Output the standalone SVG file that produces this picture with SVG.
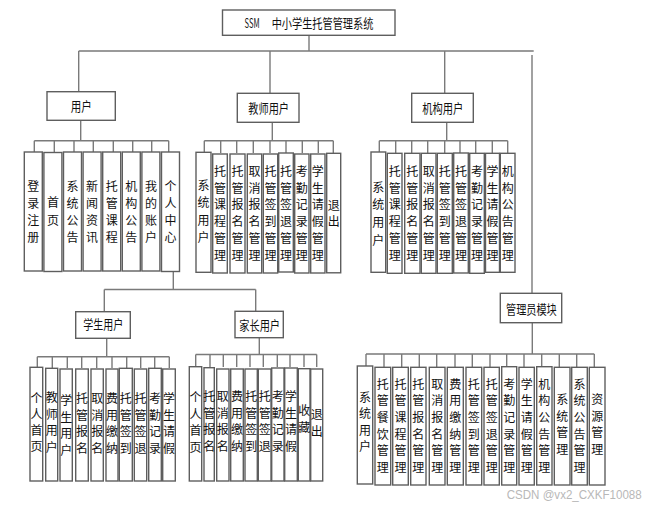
<svg xmlns="http://www.w3.org/2000/svg" width="654" height="509" viewBox="0 0 654 509">
<style>
.box{fill:#fff;stroke:#5e5e5e;stroke-width:1.4}
.ln{stroke:#7a7a7a;stroke-width:1.4;fill:none}
.t{font-family:"Noto Sans CJK SC","Noto Sans",sans-serif;font-size:13px;fill:#111}
.v{font-family:"Noto Sans CJK SC","Noto Sans",sans-serif;font-size:12px;fill:#111;text-anchor:middle}
.wm{font-family:"Liberation Sans",Arial,sans-serif;font-size:12px;fill:#b8b8b8}
</style>
<rect width="654" height="509" fill="#fff"/>
<g id="connectors" class="ln">
<path d="M309,35V51M78.7,51H533.7M78.7,51V91.7M270,51V93.3M444.7,51V93.3M532,55V293.3"/>
<path d="M80.7,120.3V140.7M34.3,140.7H168.7M34.3,140.7V152M54.3,140.7V152M74,140.7V152M93.3,140.7V152M113.3,140.7V152M132.7,140.7V152M151.7,140.7V152M168.7,140.7V152"/>
<path d="M272.3,122.3V140.7M204.3,140.7H333.3M204.3,140.7V153M220.7,140.7V153M236.7,140.7V153M253.3,140.7V153M270,140.7V153M286,140.7V153M302.3,140.7V153M318.3,140.7V153M333.3,140.7V153"/>
<path d="M446.7,122.3V140.7M379.3,140.7H507.7M379.3,140.7V152M395.7,140.7V153M411.7,140.7V153M427.7,140.7V153M444.7,140.7V153M460,140.7V153M475.7,140.7V153M492.3,140.7V153M507.7,140.7V153"/>
<path d="M173.3,271.5V289.5M104.3,289.5H255.7M104.3,289.5V311.7M255.7,289.5V311.3"/>
<path d="M106.7,338.3V356.7M37.3,356.7H169.3M37.3,356.7V368M52.3,356.7V368M67.3,356.7V368M81.7,356.7V368M96.7,356.7V368M112,356.7V368M126.7,356.7V368M140.7,356.7V368M154.7,356.7V368M169.3,356.7V368"/>
<path d="M259.3,337.7V354.5M195.7,354.5H316.7M195.7,354.5V367M210,354.5V367M223.3,354.5V367M236.7,354.5V367M250,354.5V367M263.3,354.5V367M277.3,354.5V367M290,354.5V367M304,354.5V367M316.7,354.5V367"/>
<path d="M532.3,322.7V354M366,354H594.3M366,354V366.5M384,354V367M401.7,354V367M419.3,354V367M436.7,354V367M455,354V367M472.3,354V367M490,354V367M506.7,354V367M524,354V367M541.7,354V367M559.3,354V367M576.7,354V367M594.3,354V367"/>
</g>
<g id="root"><rect class="box" x="222.5" y="10" width="172.5" height="25.3"/>
<text class="t" x="244.5" y="27.5" font-size="14" textLength="15" lengthAdjust="spacingAndGlyphs">SSM</text>
<text class="t" x="271.7" y="27.5" textLength="101.7" lengthAdjust="spacingAndGlyphs">中小学生托管管理系统</text></g>
<g id="yonghu"><rect class="box" x="47" y="91.7" width="68.3" height="28.6"/><text class="t" x="70.7" y="110.8" textLength="21" lengthAdjust="spacingAndGlyphs">用户</text></g>
<g id="jiaoshi"><rect class="box" x="237.3" y="93.3" width="61.7" height="29"/><text class="t" x="248.3" y="113" textLength="40.7" lengthAdjust="spacingAndGlyphs">教师用户</text></g>
<g id="jigou"><rect class="box" x="411.7" y="93.3" width="61.6" height="29"/><text class="t" x="422.3" y="113" textLength="41" lengthAdjust="spacingAndGlyphs">机构用户</text></g>
<g id="xuesheng"><rect class="box" x="75.7" y="311.7" width="54.6" height="26.6"/><text class="t" x="83.3" y="329.3" textLength="40" lengthAdjust="spacingAndGlyphs">学生用户</text></g>
<g id="jiazhang"><rect class="box" x="235" y="311.3" width="48.3" height="26.4"/><text class="t" x="239.3" y="330" textLength="40.7" lengthAdjust="spacingAndGlyphs">家长用户</text></g>
<g id="guanliyuan"><rect class="box" x="500.3" y="293.3" width="61.4" height="29.4"/><text class="t" x="506" y="313.8" textLength="50.7" lengthAdjust="spacingAndGlyphs">管理员模块</text></g>

<g id="u1"><rect class="box" x="24.3" y="152" width="18" height="119"/><text class="v"><tspan x="33.3" y="191.2">登</tspan><tspan x="33.3" y="208.2">录</tspan><tspan x="33.3" y="225.2">注</tspan><tspan x="33.3" y="242.2">册</tspan></text></g>
<g id="u2"><rect class="box" x="43.9" y="152.5" width="18" height="119"/><text class="v"><tspan x="52.9" y="206.7">首</tspan><tspan x="52.9" y="224.7">页</tspan></text></g>
<g id="u3"><rect class="box" x="63.5" y="152" width="18" height="119"/><text class="v"><tspan x="72.5" y="191.2">系</tspan><tspan x="72.5" y="208.2">统</tspan><tspan x="72.5" y="225.2">公</tspan><tspan x="72.5" y="242.2">告</tspan></text></g>
<g id="u4"><rect class="box" x="83.1" y="152" width="18" height="119"/><text class="v"><tspan x="92.1" y="191.2">新</tspan><tspan x="92.1" y="208.2">闻</tspan><tspan x="92.1" y="225.2">资</tspan><tspan x="92.1" y="242.2">讯</tspan></text></g>
<g id="u5"><rect class="box" x="102.7" y="152" width="18" height="119"/><text class="v"><tspan x="111.7" y="191.2">托</tspan><tspan x="111.7" y="208.2">管</tspan><tspan x="111.7" y="225.2">课</tspan><tspan x="111.7" y="242.2">程</tspan></text></g>
<g id="u6"><rect class="box" x="122.3" y="152" width="18" height="119"/><text class="v"><tspan x="131.3" y="191.2">机</tspan><tspan x="131.3" y="208.2">构</tspan><tspan x="131.3" y="225.2">公</tspan><tspan x="131.3" y="242.2">告</tspan></text></g>
<g id="u7"><rect class="box" x="141.9" y="152" width="18" height="119"/><text class="v"><tspan x="150.9" y="191.2">我</tspan><tspan x="150.9" y="208.2">的</tspan><tspan x="150.9" y="225.2">账</tspan><tspan x="150.9" y="242.2">户</tspan></text></g>
<g id="u8"><rect class="box" x="161.5" y="152" width="18" height="119.5"/><text class="v"><tspan x="170.5" y="191.2">个</tspan><tspan x="170.5" y="208.2">人</tspan><tspan x="170.5" y="225.2">中</tspan><tspan x="170.5" y="242.2">心</tspan></text></g>

<g id="t1"><rect class="box" x="196" y="152.3" width="15" height="120"/><text class="v"><tspan x="203.5" y="189.5">系</tspan><tspan x="203.5" y="207">统</tspan><tspan x="203.5" y="224.5">用</tspan><tspan x="203.5" y="242">户</tspan></text></g>
<g id="t2"><rect class="box" x="212.7" y="154" width="14.6" height="119"/><text class="v"><tspan x="220" y="176">托</tspan><tspan x="220" y="192.7">管</tspan><tspan x="220" y="209.4">课</tspan><tspan x="220" y="226.1">程</tspan><tspan x="220" y="242.8">管</tspan><tspan x="220" y="259.5">理</tspan></text></g>
<g id="t3"><rect class="box" x="230" y="154" width="15" height="119"/><text class="v"><tspan x="237.5" y="176">托</tspan><tspan x="237.5" y="192.7">管</tspan><tspan x="237.5" y="209.4">报</tspan><tspan x="237.5" y="226.1">名</tspan><tspan x="237.5" y="242.8">管</tspan><tspan x="237.5" y="259.5">理</tspan></text></g>
<g id="t4"><rect class="box" x="247.3" y="154" width="14.4" height="119"/><text class="v"><tspan x="254.5" y="176">取</tspan><tspan x="254.5" y="192.7">消</tspan><tspan x="254.5" y="209.4">报</tspan><tspan x="254.5" y="226.1">名</tspan><tspan x="254.5" y="242.8">管</tspan><tspan x="254.5" y="259.5">理</tspan></text></g>
<g id="t5"><rect class="box" x="263.3" y="154" width="14.4" height="119"/><text class="v"><tspan x="270.5" y="176">托</tspan><tspan x="270.5" y="192.7">管</tspan><tspan x="270.5" y="209.4">签</tspan><tspan x="270.5" y="226.1">到</tspan><tspan x="270.5" y="242.8">管</tspan><tspan x="270.5" y="259.5">理</tspan></text></g>
<g id="t6"><rect class="box" x="278.7" y="153" width="14.6" height="119"/><text class="v"><tspan x="286" y="176">托</tspan><tspan x="286" y="192.7">管</tspan><tspan x="286" y="209.4">签</tspan><tspan x="286" y="226.1">退</tspan><tspan x="286" y="242.8">管</tspan><tspan x="286" y="259.5">理</tspan></text></g>
<g id="t7"><rect class="box" x="294.7" y="154" width="14.3" height="119"/><text class="v"><tspan x="301.8" y="176">考</tspan><tspan x="301.8" y="192.7">勤</tspan><tspan x="301.8" y="209.4">记</tspan><tspan x="301.8" y="226.1">录</tspan><tspan x="301.8" y="242.8">管</tspan><tspan x="301.8" y="259.5">理</tspan></text></g>
<g id="t8"><rect class="box" x="310.7" y="154" width="14.3" height="119"/><text class="v"><tspan x="317.8" y="176">学</tspan><tspan x="317.8" y="192.7">生</tspan><tspan x="317.8" y="209.4">请</tspan><tspan x="317.8" y="226.1">假</tspan><tspan x="317.8" y="242.8">管</tspan><tspan x="317.8" y="259.5">理</tspan></text></g>
<g id="t9"><rect class="box" x="326.7" y="153.3" width="14" height="119.5"/><text class="v"><tspan x="333.7" y="209.7">退</tspan><tspan x="333.7" y="226.4">出</tspan></text></g>

<g id="o1"><rect class="box" x="371" y="152" width="14.7" height="120.3"/><text class="v"><tspan x="378.3" y="191.5">系</tspan><tspan x="378.3" y="209.3">统</tspan><tspan x="378.3" y="227.1">用</tspan><tspan x="378.3" y="244.9">户</tspan></text></g>
<g id="o2"><rect class="box" x="387.3" y="153.3" width="14.7" height="120"/><text class="v"><tspan x="394.7" y="176">托</tspan><tspan x="394.7" y="192.7">管</tspan><tspan x="394.7" y="209.4">课</tspan><tspan x="394.7" y="226.1">程</tspan><tspan x="394.7" y="242.8">管</tspan><tspan x="394.7" y="259.5">理</tspan></text></g>
<g id="o3"><rect class="box" x="404.7" y="153.3" width="15.3" height="120"/><text class="v"><tspan x="412.3" y="176">托</tspan><tspan x="412.3" y="192.7">管</tspan><tspan x="412.3" y="209.4">报</tspan><tspan x="412.3" y="226.1">名</tspan><tspan x="412.3" y="242.8">管</tspan><tspan x="412.3" y="259.5">理</tspan></text></g>
<g id="o4"><rect class="box" x="421.3" y="153.3" width="14.7" height="120"/><text class="v"><tspan x="428.7" y="176">取</tspan><tspan x="428.7" y="192.7">消</tspan><tspan x="428.7" y="209.4">报</tspan><tspan x="428.7" y="226.1">名</tspan><tspan x="428.7" y="242.8">管</tspan><tspan x="428.7" y="259.5">理</tspan></text></g>
<g id="o5"><rect class="box" x="437.3" y="153.3" width="15" height="120"/><text class="v"><tspan x="444.8" y="176">托</tspan><tspan x="444.8" y="192.7">管</tspan><tspan x="444.8" y="209.4">签</tspan><tspan x="444.8" y="226.1">到</tspan><tspan x="444.8" y="242.8">管</tspan><tspan x="444.8" y="259.5">理</tspan></text></g>
<g id="o6"><rect class="box" x="453.7" y="153" width="14.6" height="120"/><text class="v"><tspan x="461" y="176">托</tspan><tspan x="461" y="192.7">管</tspan><tspan x="461" y="209.4">签</tspan><tspan x="461" y="226.1">退</tspan><tspan x="461" y="242.8">管</tspan><tspan x="461" y="259.5">理</tspan></text></g>
<g id="o7"><rect class="box" x="469.7" y="153.3" width="14.6" height="120"/><text class="v"><tspan x="477" y="176">考</tspan><tspan x="477" y="192.7">勤</tspan><tspan x="477" y="209.4">记</tspan><tspan x="477" y="226.1">录</tspan><tspan x="477" y="242.8">管</tspan><tspan x="477" y="259.5">理</tspan></text></g>
<g id="o8"><rect class="box" x="485.5" y="153.3" width="14" height="119"/><text class="v"><tspan x="492.5" y="176">学</tspan><tspan x="492.5" y="192.7">生</tspan><tspan x="492.5" y="209.4">请</tspan><tspan x="492.5" y="226.1">假</tspan><tspan x="492.5" y="242.8">管</tspan><tspan x="492.5" y="259.5">理</tspan></text></g>
<g id="o9"><rect class="box" x="500.3" y="153.3" width="14.7" height="119"/><text class="v"><tspan x="507.7" y="176">机</tspan><tspan x="507.7" y="192.7">构</tspan><tspan x="507.7" y="209.4">公</tspan><tspan x="507.7" y="226.1">告</tspan><tspan x="507.7" y="242.8">管</tspan><tspan x="507.7" y="259.5">理</tspan></text></g>

<g id="s1"><rect class="box" x="30" y="367.3" width="12.7" height="113.7"/><text class="v"><tspan x="36.4" y="403">个</tspan><tspan x="36.4" y="419">人</tspan><tspan x="36.4" y="435">首</tspan><tspan x="36.4" y="451">页</tspan></text></g>
<g id="s2"><rect class="box" x="45.7" y="368.3" width="12" height="112.7"/><text class="v"><tspan x="51.7" y="402">教</tspan><tspan x="51.7" y="418.5">师</tspan><tspan x="51.7" y="435">用</tspan><tspan x="51.7" y="451.5">户</tspan></text></g>
<g id="s3"><rect class="box" x="60" y="369" width="12.3" height="112"/><text class="v"><tspan x="66.2" y="405">学</tspan><tspan x="66.2" y="421.5">生</tspan><tspan x="66.2" y="438">用</tspan><tspan x="66.2" y="454.5">户</tspan></text></g>
<g id="s4"><rect class="box" x="75.7" y="369" width="12.6" height="112"/><text class="v"><tspan x="82" y="403">托</tspan><tspan x="82" y="419.5">管</tspan><tspan x="82" y="436">报</tspan><tspan x="82" y="452.5">名</tspan></text></g>
<g id="s5"><rect class="box" x="91" y="369" width="12.3" height="112"/><text class="v"><tspan x="97.2" y="403">取</tspan><tspan x="97.2" y="419.5">消</tspan><tspan x="97.2" y="436">报</tspan><tspan x="97.2" y="452.5">名</tspan></text></g>
<g id="s6"><rect class="box" x="106" y="369" width="12" height="112"/><text class="v"><tspan x="112" y="403">费</tspan><tspan x="112" y="419.5">用</tspan><tspan x="112" y="436">缴</tspan><tspan x="112" y="452.5">纳</tspan></text></g>
<g id="s7"><rect class="box" x="119.3" y="368.3" width="13" height="112.7"/><text class="v"><tspan x="125.8" y="403">托</tspan><tspan x="125.8" y="419.5">管</tspan><tspan x="125.8" y="436">签</tspan><tspan x="125.8" y="452.5">到</tspan></text></g>
<g id="s8"><rect class="box" x="134.3" y="369" width="12.4" height="112"/><text class="v"><tspan x="140.5" y="403">托</tspan><tspan x="140.5" y="419.5">管</tspan><tspan x="140.5" y="436">签</tspan><tspan x="140.5" y="452.5">退</tspan></text></g>
<g id="s9"><rect class="box" x="148.7" y="368.3" width="12.6" height="112.7"/><text class="v"><tspan x="155" y="403">考</tspan><tspan x="155" y="419.5">勤</tspan><tspan x="155" y="436">记</tspan><tspan x="155" y="452.5">录</tspan></text></g>
<g id="s10"><rect class="box" x="162.7" y="369" width="12.6" height="112"/><text class="v"><tspan x="169" y="403">学</tspan><tspan x="169" y="419.5">生</tspan><tspan x="169" y="436">请</tspan><tspan x="169" y="452.5">假</tspan></text></g>

<g id="p1"><rect class="box" x="189.3" y="366.7" width="12.4" height="114.3"/><text class="v"><tspan x="195.5" y="402">个</tspan><tspan x="195.5" y="418.5">人</tspan><tspan x="195.5" y="435">首</tspan><tspan x="195.5" y="451.5">页</tspan></text></g>
<g id="p2"><rect class="box" x="204" y="367.7" width="10.3" height="113.3"/><text class="v"><tspan x="209.2" y="401">托</tspan><tspan x="209.2" y="417.5">管</tspan><tspan x="209.2" y="434">报</tspan><tspan x="209.2" y="450.5">名</tspan></text></g>
<g id="p3"><rect class="box" x="216.7" y="369" width="12.3" height="112"/><text class="v"><tspan x="222.8" y="401">取</tspan><tspan x="222.8" y="417.5">消</tspan><tspan x="222.8" y="434">报</tspan><tspan x="222.8" y="450.5">名</tspan></text></g>
<g id="p4"><rect class="box" x="230.7" y="369" width="12.6" height="112"/><text class="v"><tspan x="237" y="401">费</tspan><tspan x="237" y="417.5">用</tspan><tspan x="237" y="434">缴</tspan><tspan x="237" y="450.5">纳</tspan></text></g>
<g id="p5"><rect class="box" x="245" y="369" width="12.3" height="112"/><text class="v"><tspan x="251.2" y="401">托</tspan><tspan x="251.2" y="417.5">管</tspan><tspan x="251.2" y="434">签</tspan><tspan x="251.2" y="450.5">到</tspan></text></g>
<g id="p6"><rect class="box" x="258.3" y="369" width="12.7" height="112"/><text class="v"><tspan x="264.7" y="401">托</tspan><tspan x="264.7" y="417.5">管</tspan><tspan x="264.7" y="434">签</tspan><tspan x="264.7" y="450.5">退</tspan></text></g>
<g id="p7"><rect class="box" x="271.7" y="368" width="12.3" height="113"/><text class="v"><tspan x="277.8" y="401">考</tspan><tspan x="277.8" y="417.5">勤</tspan><tspan x="277.8" y="434">记</tspan><tspan x="277.8" y="450.5">录</tspan></text></g>
<g id="p8"><rect class="box" x="284.7" y="368" width="12.6" height="113"/><text class="v"><tspan x="291" y="401">学</tspan><tspan x="291" y="417.5">生</tspan><tspan x="291" y="434">请</tspan><tspan x="291" y="450.5">假</tspan></text></g>
<g id="p9"><rect class="box" x="298.3" y="368.7" width="11.7" height="112.3"/><text class="v"><tspan x="304.2" y="415">收</tspan><tspan x="304.2" y="431.5">藏</tspan></text></g>
<g id="p10"><rect class="box" x="310.7" y="369" width="12" height="112"/><text class="v"><tspan x="316.7" y="419">退</tspan><tspan x="316.7" y="436">出</tspan></text></g>

<g id="a1"><rect class="box" x="357.3" y="366" width="15.4" height="118"/><text class="v"><tspan x="365" y="401.8">系</tspan><tspan x="365" y="418.3">统</tspan><tspan x="365" y="434.8">用</tspan><tspan x="365" y="451.3">户</tspan></text></g>
<g id="a2"><rect class="box" x="375" y="367.3" width="15.7" height="117.7"/><text class="v"><tspan x="382.8" y="388.5">托</tspan><tspan x="382.8" y="405.2">管</tspan><tspan x="382.8" y="421.9">餐</tspan><tspan x="382.8" y="438.6">饮</tspan><tspan x="382.8" y="455.3">管</tspan><tspan x="382.8" y="472">理</tspan></text></g>
<g id="a3"><rect class="box" x="392.7" y="367.3" width="15.6" height="117.7"/><text class="v"><tspan x="400.5" y="388.5">托</tspan><tspan x="400.5" y="405.2">管</tspan><tspan x="400.5" y="421.9">课</tspan><tspan x="400.5" y="438.6">程</tspan><tspan x="400.5" y="455.3">管</tspan><tspan x="400.5" y="472">理</tspan></text></g>
<g id="a4"><rect class="box" x="410.7" y="367.3" width="15.3" height="117.7"/><text class="v"><tspan x="418.3" y="388.5">托</tspan><tspan x="418.3" y="405.2">管</tspan><tspan x="418.3" y="421.9">报</tspan><tspan x="418.3" y="438.6">名</tspan><tspan x="418.3" y="455.3">管</tspan><tspan x="418.3" y="472">理</tspan></text></g>
<g id="a5"><rect class="box" x="429.3" y="367.3" width="15.7" height="117.7"/><text class="v"><tspan x="437.2" y="388.5">取</tspan><tspan x="437.2" y="405.2">消</tspan><tspan x="437.2" y="421.9">报</tspan><tspan x="437.2" y="438.6">名</tspan><tspan x="437.2" y="455.3">管</tspan><tspan x="437.2" y="472">理</tspan></text></g>
<g id="a6"><rect class="box" x="447.3" y="367.3" width="16" height="117.7"/><text class="v"><tspan x="455.3" y="388.5">费</tspan><tspan x="455.3" y="405.2">用</tspan><tspan x="455.3" y="421.9">缴</tspan><tspan x="455.3" y="438.6">纳</tspan><tspan x="455.3" y="455.3">管</tspan><tspan x="455.3" y="472">理</tspan></text></g>
<g id="a7"><rect class="box" x="466" y="367.3" width="15.7" height="117.7"/><text class="v"><tspan x="473.8" y="388.5">托</tspan><tspan x="473.8" y="405.2">管</tspan><tspan x="473.8" y="421.9">签</tspan><tspan x="473.8" y="438.6">到</tspan><tspan x="473.8" y="455.3">管</tspan><tspan x="473.8" y="472">理</tspan></text></g>
<g id="a8"><rect class="box" x="484" y="367.3" width="15.3" height="117.7"/><text class="v"><tspan x="491.7" y="388.5">托</tspan><tspan x="491.7" y="405.2">管</tspan><tspan x="491.7" y="421.9">签</tspan><tspan x="491.7" y="438.6">退</tspan><tspan x="491.7" y="455.3">管</tspan><tspan x="491.7" y="472">理</tspan></text></g>
<g id="a9"><rect class="box" x="501.7" y="366.7" width="15" height="118.3"/><text class="v"><tspan x="509.2" y="388.5">考</tspan><tspan x="509.2" y="405.2">勤</tspan><tspan x="509.2" y="421.9">记</tspan><tspan x="509.2" y="438.6">录</tspan><tspan x="509.2" y="455.3">管</tspan><tspan x="509.2" y="472">理</tspan></text></g>
<g id="a10"><rect class="box" x="519" y="367.3" width="15.3" height="117.7"/><text class="v"><tspan x="526.7" y="388.5">学</tspan><tspan x="526.7" y="405.2">生</tspan><tspan x="526.7" y="421.9">请</tspan><tspan x="526.7" y="438.6">假</tspan><tspan x="526.7" y="455.3">管</tspan><tspan x="526.7" y="472">理</tspan></text></g>
<g id="a11"><rect class="box" x="536.7" y="366.7" width="15.3" height="118.3"/><text class="v"><tspan x="544.3" y="388.5">机</tspan><tspan x="544.3" y="405.2">构</tspan><tspan x="544.3" y="421.9">公</tspan><tspan x="544.3" y="438.6">告</tspan><tspan x="544.3" y="455.3">管</tspan><tspan x="544.3" y="472">理</tspan></text></g>
<g id="a12"><rect class="box" x="554.3" y="367.3" width="15.7" height="117.7"/><text class="v"><tspan x="562.2" y="404">系</tspan><tspan x="562.2" y="420.7">统</tspan><tspan x="562.2" y="437.4">管</tspan><tspan x="562.2" y="454.1">理</tspan></text></g>
<g id="a13"><rect class="box" x="571.7" y="367.3" width="15.6" height="117.7"/><text class="v"><tspan x="579.5" y="388.5">系</tspan><tspan x="579.5" y="405.2">统</tspan><tspan x="579.5" y="421.9">公</tspan><tspan x="579.5" y="438.6">告</tspan><tspan x="579.5" y="455.3">管</tspan><tspan x="579.5" y="472">理</tspan></text></g>
<g id="a14"><rect class="box" x="589.3" y="367.3" width="15.7" height="117.7"/><text class="v"><tspan x="597.2" y="404">资</tspan><tspan x="597.2" y="420.7">源</tspan><tspan x="597.2" y="437.4">管</tspan><tspan x="597.2" y="454.1">理</tspan></text></g>

<text class="wm" x="506.7" y="498.5" textLength="135" lengthAdjust="spacingAndGlyphs">CSDN @vx2_CXKF10088</text>
</svg>
